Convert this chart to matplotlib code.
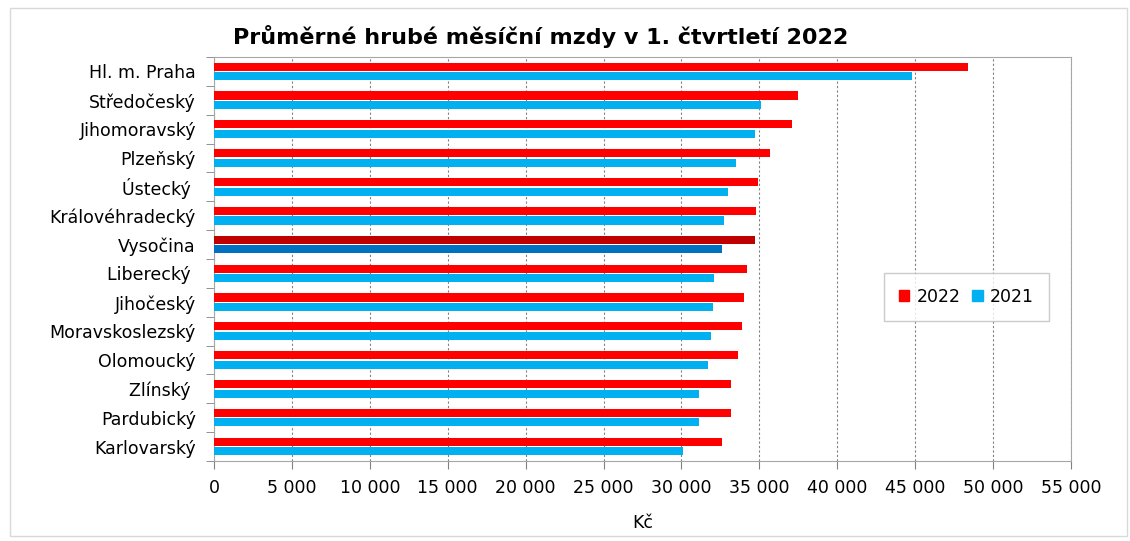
import numpy as np
import matplotlib
matplotlib.use("Agg")
import matplotlib.pyplot as plt
from matplotlib.patches import Patch, Rectangle

# data (Kč)
regions = ["Hl. m. Praha", "Středočeský", "Jihomoravský", "Plzeňský", "Ústecký ",
           "Královéhradecký", "Vysočina", "Liberecký ", "Jihočeský", "Moravskoslezský",
           "Olomoucký", "Zlínský ", "Pardubický", "Karlovarský"]
wage_2022 = [48400, 37500, 37100, 35700, 34900, 34800, 34700,
             34200, 34000, 33900, 33600, 33200, 33200, 32600]
wage_2021 = [44800, 35100, 34700, 33500, 33000, 32700, 32600,
             32100, 32000, 31900, 31700, 31100, 31100, 30100]
x_ticks = np.arange(0, 55001, 5000)
highlight = "Vysočina"

red, dark_red = "#FF0000", "#C00000"
blue, dark_blue = "#00B0F0", "#0070C0"

fig = plt.figure(figsize=(11.3, 5.41), dpi=100)
fig.patches.append(Rectangle((0.009, 0.01), 0.988, 0.975, transform=fig.transFigure,
                             fill=False, edgecolor="#D9D9D9", linewidth=1))
ax = fig.add_axes([0.1894, 0.148, 0.7584, 0.7466])

n = len(regions)
pos = np.arange(n)
h = 0.28
c22 = [dark_red if r == highlight else red for r in regions]
c21 = [dark_blue if r == highlight else blue for r in regions]
ax.barh(pos - 0.165, wage_2022, height=h, color=c22, zorder=3)
ax.barh(pos + 0.165, wage_2021, height=h, color=c21, zorder=3)

ax.set_xlim(0, 55000)
ax.set_ylim(n - 0.5, -0.5)
ax.set_xticks(x_ticks)
ax.set_xticklabels(["{:,}".format(v).replace(",", " ") for v in x_ticks], fontsize=12.5)
ax.set_yticks(pos)
ax.set_yticklabels(regions, fontsize=12.5)
ax.set_yticks(np.arange(-0.5, n, 1), minor=True)
ax.tick_params(axis="y", which="major", length=0, pad=13)
ax.tick_params(axis="y", which="minor", length=6, color="#808080", direction="out")
ax.tick_params(axis="x", length=6, color="#808080", pad=7)
ax.xaxis.grid(True, linestyle=(0, (2, 2)), color="#808080", linewidth=0.8, zorder=0)
for s in ax.spines.values():
    s.set_color("#A6A6A6")
ax.set_xlabel("Kč", fontsize=12.5, labelpad=12)

fig.text(0.478, 0.932, "Průměrné hrubé měsíční mzdy v 1. čtvrtletí 2022",
         fontsize=16, fontweight="bold", ha="center", va="center")

handles = [Patch(color=red, label="2022"), Patch(color=blue, label="2021")]
leg = ax.legend(handles=handles, ncol=2, loc="center left",
                bbox_to_anchor=(0.782, 0.406), borderaxespad=0, fontsize=12.5,
                frameon=True, fancybox=False,
                handlelength=0.6, handleheight=0.6, handletextpad=0.4,
                columnspacing=0.7, borderpad=0.85)
leg.get_frame().set_edgecolor("#BFBFBF")
leg.get_frame().set_linewidth(1)

fig.savefig("out.png", dpi=100)
